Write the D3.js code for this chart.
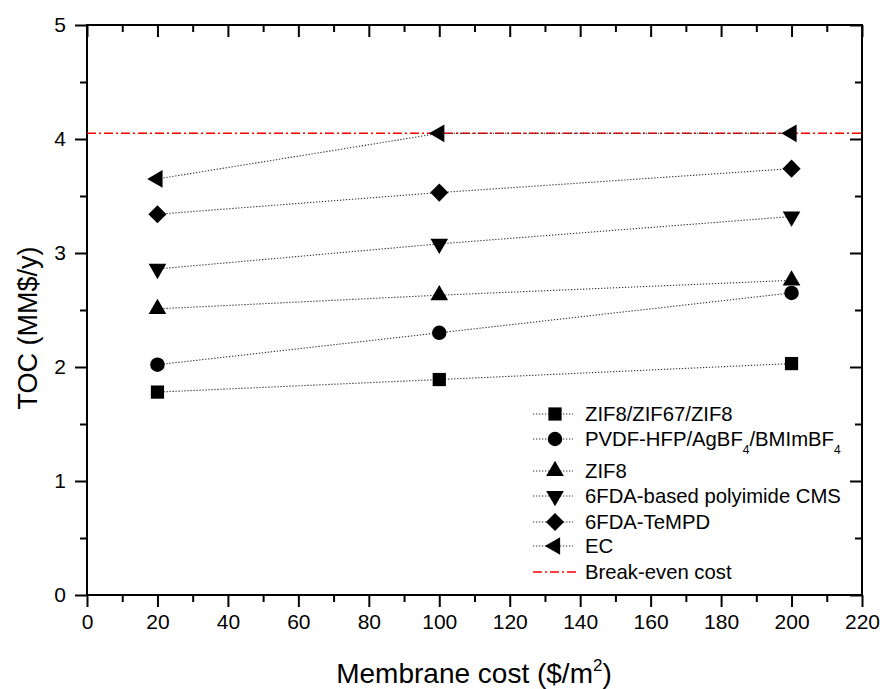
<!DOCTYPE html>
<html>
<head>
<meta charset="utf-8">
<script src="https://cdn.jsdelivr.net/npm/d3@7"></script>
<style>
    body { margin: 0; background: #fff; }
    svg { font-family: "Liberation Sans", Arial, sans-serif; }
</style>
</head>
<body>
<div id="chart"></div>
<script>
// membrane cost ($/m2) on the x axis
var costs = [20, 100, 200];

// TOC (MM$/y) for each membrane
var seriesNames = ["ZIF8/ZIF67/ZIF8", "PVDF-HFP/AgBF4/BMImBF4", "ZIF8", "6FDA-based polyimide CMS", "6FDA-TeMPD", "EC"];
var zif8Zif67Zif8 = [1.78, 1.89, 2.03];
var pvdfHfp = [2.02, 2.30, 2.65];
var zif8 = [2.51, 2.63, 2.76];
var fdaCms = [2.86, 3.08, 3.32];
var fdaTempd = [3.34, 3.53, 3.74];
var ec = [3.65, 4.05, 4.05];
var breakEven = 4.05;

var xTicks = d3.range(0, 221, 20);
var xMinor = d3.range(10, 220, 20);
var yTicks = [0, 1, 2, 3, 4, 5];
var yMinor = [0.5, 1.5, 2.5, 3.5, 4.5];

var width = 880, height = 689;
var margin = { top: 25, right: 18, bottom: 94, left: 87 };

var svg = d3.select("#chart").append("svg")
    .attr("width", width)
    .attr("height", height);

var x = d3.scaleLinear().domain([0, 220]).range([margin.left, width - margin.right]);
var y = d3.scaleLinear().domain([0, 5]).range([height - margin.bottom, margin.top]);

var series = [zif8Zif67Zif8, pvdfHfp, zif8, fdaCms, fdaTempd, ec];
// marker shape + rotation per series
var markers = [
    { type: d3.symbolSquare, size: 175, rotate: 0 },
    { type: d3.symbolCircle, size: 165, rotate: 0 },
    { type: d3.symbolTriangle, size: 135, rotate: 0 },
    { type: d3.symbolTriangle, size: 135, rotate: 180 },
    { type: d3.symbolSquare, size: 165, rotate: 45 },
    { type: d3.symbolTriangle, size: 135, rotate: -90 }
];

function drawAxis(axis, transform, tickLen, values) {
    var g = svg.append("g")
        .attr("transform", transform)
        .call(axis.tickValues(values).tickSize(tickLen).tickSizeOuter(0));
    g.select(".domain").remove();
    g.selectAll(".tick line").attr("stroke", "#000").attr("stroke-width", 2);
    return g;
}

var x0 = x.range()[0], x1 = x.range()[1];
var y0 = y.range()[0], y1 = y.range()[1];

// bottom axis (ticks out) with labels
var bottom = drawAxis(d3.axisBottom(x), "translate(0," + y0 + ")", 12, xTicks);
bottom.selectAll("text").attr("font-size", 21).attr("fill", "#000").attr("dy", "1.05em").attr("y", 12);
drawAxis(d3.axisBottom(x).tickFormat(""), "translate(0," + y0 + ")", 7, xMinor);
// top axis (ticks in)
drawAxis(d3.axisBottom(x).tickFormat(""), "translate(0," + y1 + ")", 12, xTicks);
drawAxis(d3.axisBottom(x).tickFormat(""), "translate(0," + y1 + ")", 7, xMinor);
// left axis (ticks out) with labels
var left = drawAxis(d3.axisLeft(y).tickFormat(d3.format("d")), "translate(" + x0 + ",0)", 12, yTicks);
left.selectAll("text").attr("font-size", 21).attr("fill", "#000").attr("x", -21);
drawAxis(d3.axisLeft(y).tickFormat(""), "translate(" + x0 + ",0)", 7, yMinor);
// right axis (ticks in)
drawAxis(d3.axisLeft(y).tickFormat(""), "translate(" + x1 + ",0)", 12, yTicks);
drawAxis(d3.axisLeft(y).tickFormat(""), "translate(" + x1 + ",0)", 7, yMinor);

// frame
svg.append("rect")
    .attr("x", x0).attr("y", y1)
    .attr("width", x1 - x0).attr("height", y0 - y1)
    .attr("fill", "none").attr("stroke", "#000").attr("stroke-width", 2);

// break-even line
svg.append("line")
    .attr("x1", x0).attr("x2", x1)
    .attr("y1", y(breakEven)).attr("y2", y(breakEven))
    .attr("stroke", "#ff0000").attr("stroke-width", 1.6)
    .attr("stroke-dasharray", "9,3,2,3");

var line = d3.line()
    .x(function (d, i) { return x(costs[i]); })
    .y(function (d) { return y(d); });

series.forEach(function (values, k) {
    svg.append("path")
        .attr("d", line(values))
        .attr("fill", "none")
        .attr("stroke", "#333")
        .attr("stroke-width", 1.1)
        .attr("stroke-dasharray", "1.3,1.7");

    var m = markers[k];
    svg.append("g").selectAll("path")
        .data(values)
        .enter().append("path")
        .attr("d", d3.symbol().type(m.type).size(m.size))
        .attr("transform", function (d, i) {
            return "translate(" + x(costs[i]) + "," + y(d) + ") rotate(" + m.rotate + ")";
        })
        .attr("fill", "#000");
});

// legend
var legendY = [414, 439, 471, 496, 522, 546];
var legend = svg.append("g");
seriesNames.forEach(function (name, k) {
    var ly = legendY[k];
    legend.append("line")
        .attr("x1", 533).attr("x2", 573)
        .attr("y1", ly).attr("y2", ly)
        .attr("stroke", "#333").attr("stroke-width", 1.1)
        .attr("stroke-dasharray", "1.3,1.7");
    var m = markers[k];
    legend.append("path")
        .attr("d", d3.symbol().type(m.type).size(m.size))
        .attr("transform", "translate(555," + ly + ") rotate(" + m.rotate + ")")
        .attr("fill", "#000");
    var t = legend.append("text")
        .attr("x", 585).attr("y", ly + 7)
        .attr("font-size", 20.3);
    if (name == "PVDF-HFP/AgBF4/BMImBF4") {
        t.append("tspan").text("PVDF-HFP/AgBF");
        t.append("tspan").attr("font-size", 12).attr("dy", 8).text("4");
        t.append("tspan").attr("dy", -8).text("/BMImBF");
        t.append("tspan").attr("font-size", 12).attr("dy", 8).text("4");
    } else {
        t.text(name);
    }
});
legend.append("line")
    .attr("x1", 533).attr("x2", 577)
    .attr("y1", 572).attr("y2", 572)
    .attr("stroke", "#ff0000").attr("stroke-width", 1.6)
    .attr("stroke-dasharray", "9,3,2,3");
legend.append("text")
    .attr("x", 585).attr("y", 579)
    .attr("font-size", 20.3)
    .text("Break-even cost");

// axis titles
var xTitle = svg.append("text")
    .attr("x", 474).attr("y", 683)
    .attr("text-anchor", "middle")
    .attr("font-size", 28);
xTitle.append("tspan").text("Membrane cost ($/m");
xTitle.append("tspan").attr("font-size", 17).attr("dy", -12).text("2");
xTitle.append("tspan").attr("dy", 12).text(")");

svg.append("text")
    .attr("transform", "translate(37,328) rotate(-90)")
    .attr("text-anchor", "middle")
    .attr("font-size", 27)
    .text("TOC (MM$/y)");
</script>
</body>
</html>
